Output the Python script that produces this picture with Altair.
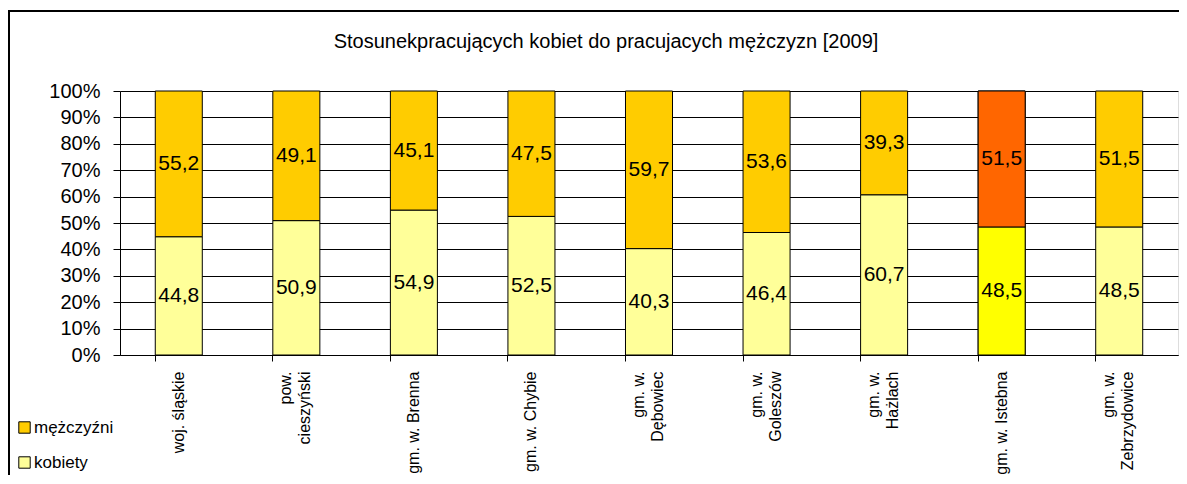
import altair as alt
import pandas as pd

miejsca = [
    "woj. śląskie",
    "pow.\ncieszyński",
    "gm. w. Brenna",
    "gm. w. Chybie",
    "gm. w.\nDębowiec",
    "gm. w.\nGoleszów",
    "gm. w.\nHażlach",
    "gm. w. Istebna",
    "gm. w.\nZebrzydowice",
]
kobiety = [44.8, 50.9, 54.9, 52.5, 40.3, 46.4, 60.7, 48.5, 48.5]
mezczyzni = [55.2, 49.1, 45.1, 47.5, 59.7, 53.6, 39.3, 51.5, 51.5]
serie = ["mężczyźni", "kobiety"]
kolory = ["#FFCC00", "#FFFF99"]
wyrozniony = "gm. w. Istebna"
kolory_wyroznione = {"mężczyźni": "#FF6600", "kobiety": "#FFFF00"}
y_ticks = [0, 0.1, 0.2, 0.3, 0.4, 0.5, 0.6, 0.7, 0.8, 0.9, 1.0]

rows = []
for i, m in enumerate(miejsca):
    rows.append({"miejsce": m, "seria": "kobiety", "kolejnosc": 0, "wartosc": kobiety[i],
                 "kolor": kolory_wyroznione["kobiety"]})
    rows.append({"miejsce": m, "seria": "mężczyźni", "kolejnosc": 1, "wartosc": mezczyzni[i],
                 "kolor": kolory_wyroznione["mężczyźni"]})
df = pd.DataFrame(rows)

FONT = "Liberation Sans"

base = alt.Chart(df).transform_stack(
    stack="wartosc", groupby=["miejsce"], as_=["y0", "y1"],
    sort=[alt.SortField("kolejnosc", order="ascending")], offset="normalize"
).transform_calculate(
    mid="(datum.y0 + datum.y1) / 2",
    etykieta="replace(format(datum.wartosc, '.1f'), '.', ',')",
)

x_axis = alt.Axis(
    labelAngle=-90, labelExpr="split(datum.label, '\\n')", labelLineHeight=19,
    labelFontSize=16, labelFont=FONT, labelColor="black", labelPadding=10,
    labelOffset={"condition": {"test": "indexof(datum.value, '\\n') >= 0", "value": -10}, "value": 0},
    bandPosition=0, tickSize=6, tickColor="black", domainColor="black",
    grid=False, labelLimit=400, labelOverlap=False,
)
y_axis = alt.Axis(values=y_ticks, format=".0%", labelOverlap=False,
                  labelFontSize=20, labelFont=FONT, labelColor="black",
                  tickColor="black", tickSize=7, labelPadding=13,
                  domainColor="black", gridColor="black", gridOpacity=1,
                  gridWidth=1)
xscale = alt.Scale(paddingInner=0.6, paddingOuter=0.3)
yscale = alt.Scale(domain=[0, 1], nice=False)


def xenc():
    return alt.X("miejsce:N", sort=miejsca, title=None, scale=xscale, axis=x_axis)


def yenc(field):
    return alt.Y(field, scale=yscale, title=None, axis=y_axis)


bars = base.mark_bar(stroke="black", strokeWidth=1).encode(
    x=xenc(),
    y=yenc("y0:Q"),
    y2="y1:Q",
    fill=alt.Fill("seria:N", scale=alt.Scale(domain=serie, range=kolory),
                  legend=alt.Legend(title=None, orient="none", legendX=-104, legendY=328,
                                    symbolType="square", symbolSize=130,
                                    symbolStrokeColor="black", symbolStrokeWidth=1,
                                    labelFontSize=17, labelFont=FONT, labelColor="black",
                                    labelOffset=1, rowPadding=17, symbolOpacity=1)),
)

highlight = base.transform_filter(
    alt.datum.miejsce == wyrozniony
).mark_bar(stroke="black", strokeWidth=1).encode(
    x=xenc(),
    y=yenc("y0:Q"),
    y2="y1:Q",
    fill=alt.Fill("kolor:N", scale=None, legend=None),
)

labels = base.mark_text(font=FONT, fontSize=21, color="black", baseline="middle").encode(
    x=xenc(),
    y=yenc("mid:Q"),
    text="etykieta:N",
)

border_top = alt.Chart(df).mark_rule(color="black", strokeWidth=2).encode(
    x=alt.value(-111), x2=alt.value(1080), y=alt.value(-80)
)
border_left = alt.Chart(df).mark_rule(color="black", strokeWidth=2).encode(
    x=alt.value(-111), y=alt.value(-81), y2=alt.value(400)
)

chart = alt.layer(bars, highlight, labels, border_top, border_left).properties(
    width=1058, height=264,
    title=alt.TitleParams(
        "Stosunekpracujących kobiet do pracujacych mężczyzn [2009]",
        font=FONT, fontSize=20, fontWeight="normal", color="black",
        anchor="middle", dx=-43, offset=-43,
    ),
    autosize=alt.AutoSizeParams(type="none"),
    padding={"left": 112, "top": 83, "right": 1, "bottom": 120},
).configure_view(stroke="black", strokeWidth=1).configure(background="white")

chart.save("out.html", embed_options={"renderer": "svg", "actions": False})
